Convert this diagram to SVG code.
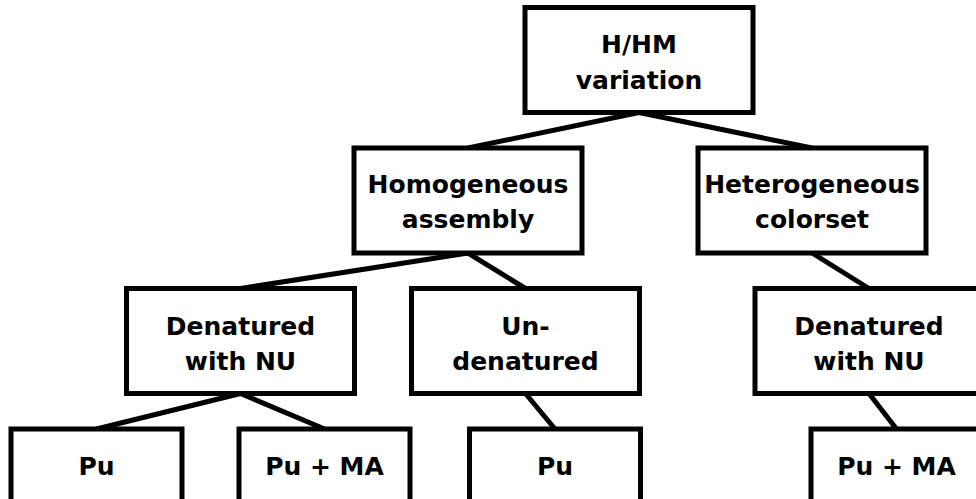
<svg xmlns="http://www.w3.org/2000/svg" width="976" height="499" viewBox="0 0 976 499">
<style>
.box{fill:#fff;stroke:#000;stroke-width:5}
.edge{stroke:#000;stroke-width:5;fill:none}
text{font-family:"DejaVu Sans","Liberation Sans",sans-serif;font-weight:bold;font-size:25px;text-anchor:middle;fill:#000}
</style>
<rect width="976" height="499" fill="#fff"/>
<g id="connectors">
<line class="edge" x1="639" y1="112.5" x2="468" y2="148"/>
<line class="edge" x1="639" y1="112.5" x2="812" y2="148"/>
<line class="edge" x1="468" y1="253" x2="240.5" y2="288.5"/>
<line class="edge" x1="468" y1="253" x2="525.5" y2="288.5"/>
<line class="edge" x1="812" y1="253" x2="869" y2="288.5"/>
<line class="edge" x1="240.5" y1="393.5" x2="96.5" y2="429"/>
<line class="edge" x1="240.5" y1="393.5" x2="324.5" y2="429"/>
<line class="edge" x1="525.5" y1="393.5" x2="555" y2="429"/>
<line class="edge" x1="869" y1="393.5" x2="896.5" y2="429"/>
</g>
<g id="root">
<rect class="box" x="525" y="7.5" width="228" height="105"/>
<text x="639" y="53">H/HM</text>
<text x="639" y="89">variation</text>
</g>
<g id="homogeneous">
<rect class="box" x="354" y="148" width="228" height="105"/>
<text x="468" y="193">Homogeneous</text>
<text x="468" y="228">assembly</text>
</g>
<g id="heterogeneous">
<rect class="box" x="698" y="148" width="228" height="105"/>
<text x="812" y="193">Heterogeneous</text>
<text x="812" y="228">colorset</text>
</g>
<g id="denatured-left">
<rect class="box" x="126.5" y="288.5" width="228" height="105"/>
<text x="240.5" y="335">Denatured</text>
<text x="240.5" y="370">with NU</text>
</g>
<g id="undenatured">
<rect class="box" x="411.5" y="288.5" width="228" height="105"/>
<text x="525.5" y="335">Un-</text>
<text x="525.5" y="370">denatured</text>
</g>
<g id="denatured-right">
<rect class="box" x="755" y="288.5" width="228" height="105"/>
<text x="869" y="335">Denatured</text>
<text x="869" y="370">with NU</text>
</g>
<g id="pu-1">
<rect class="box" x="11" y="429" width="171" height="74"/>
<text x="96.5" y="475">Pu</text>
</g>
<g id="pu-ma-1">
<rect class="box" x="239" y="429" width="171" height="74"/>
<text x="324.5" y="475">Pu + MA</text>
</g>
<g id="pu-2">
<rect class="box" x="469.5" y="429" width="171" height="74"/>
<text x="555" y="475">Pu</text>
</g>
<g id="pu-ma-2">
<rect class="box" x="811" y="429" width="171" height="74"/>
<text x="896.5" y="475">Pu + MA</text>
</g>
</svg>
